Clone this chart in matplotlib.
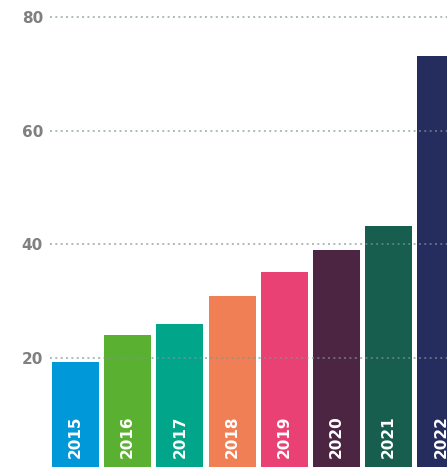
import matplotlib
matplotlib.use('Agg')
import matplotlib.pyplot as plt

years = ['2015', '2016', '2017', '2018', '2019', '2020', '2021', '2022']
values = [19.3, 24.0, 26.1, 31.0, 35.1, 39.1, 43.2, 73.2]
colors = ['#0098D8', '#5AB031', '#00A58A', '#F07F55', '#E94174',
          '#4B2542', '#175E4F', '#252C5E']
y_ticks = [20, 40, 60, 80]

fig = plt.figure(figsize=(4.47, 4.67), dpi=100)
# axes runs a bit past the right and bottom edge, like the original crop
ax = fig.add_axes([50 / 447, -5 / 467, 420 / 447, 466.4 / 467])

x = range(len(years))
ax.bar(x, values, width=0.9, color=colors, zorder=1)

for i, year in enumerate(years):
    ax.text(i, 2.4, year, rotation=90, ha='center', va='bottom',
            color='white', fontsize=11, fontweight='bold', zorder=3)

ax.set_xlim(-0.488, 7.557)
ax.set_ylim(0, 82)
ax.set_xticks([])
ax.set_yticks(y_ticks)
ax.set_yticklabels([str(t) for t in y_ticks], color='#808080',
                   fontsize=11, fontweight='bold')
ax.tick_params(axis='y', length=0, pad=5)
for side in ax.spines.values():
    side.set_visible(False)

ax.set_axisbelow(False)
ax.grid(axis='y', color='#7f9494', alpha=0.65, linewidth=1.4,
        linestyle=(0, (1, 1.75)), zorder=2)

fig.savefig('out.png', dpi=100)
